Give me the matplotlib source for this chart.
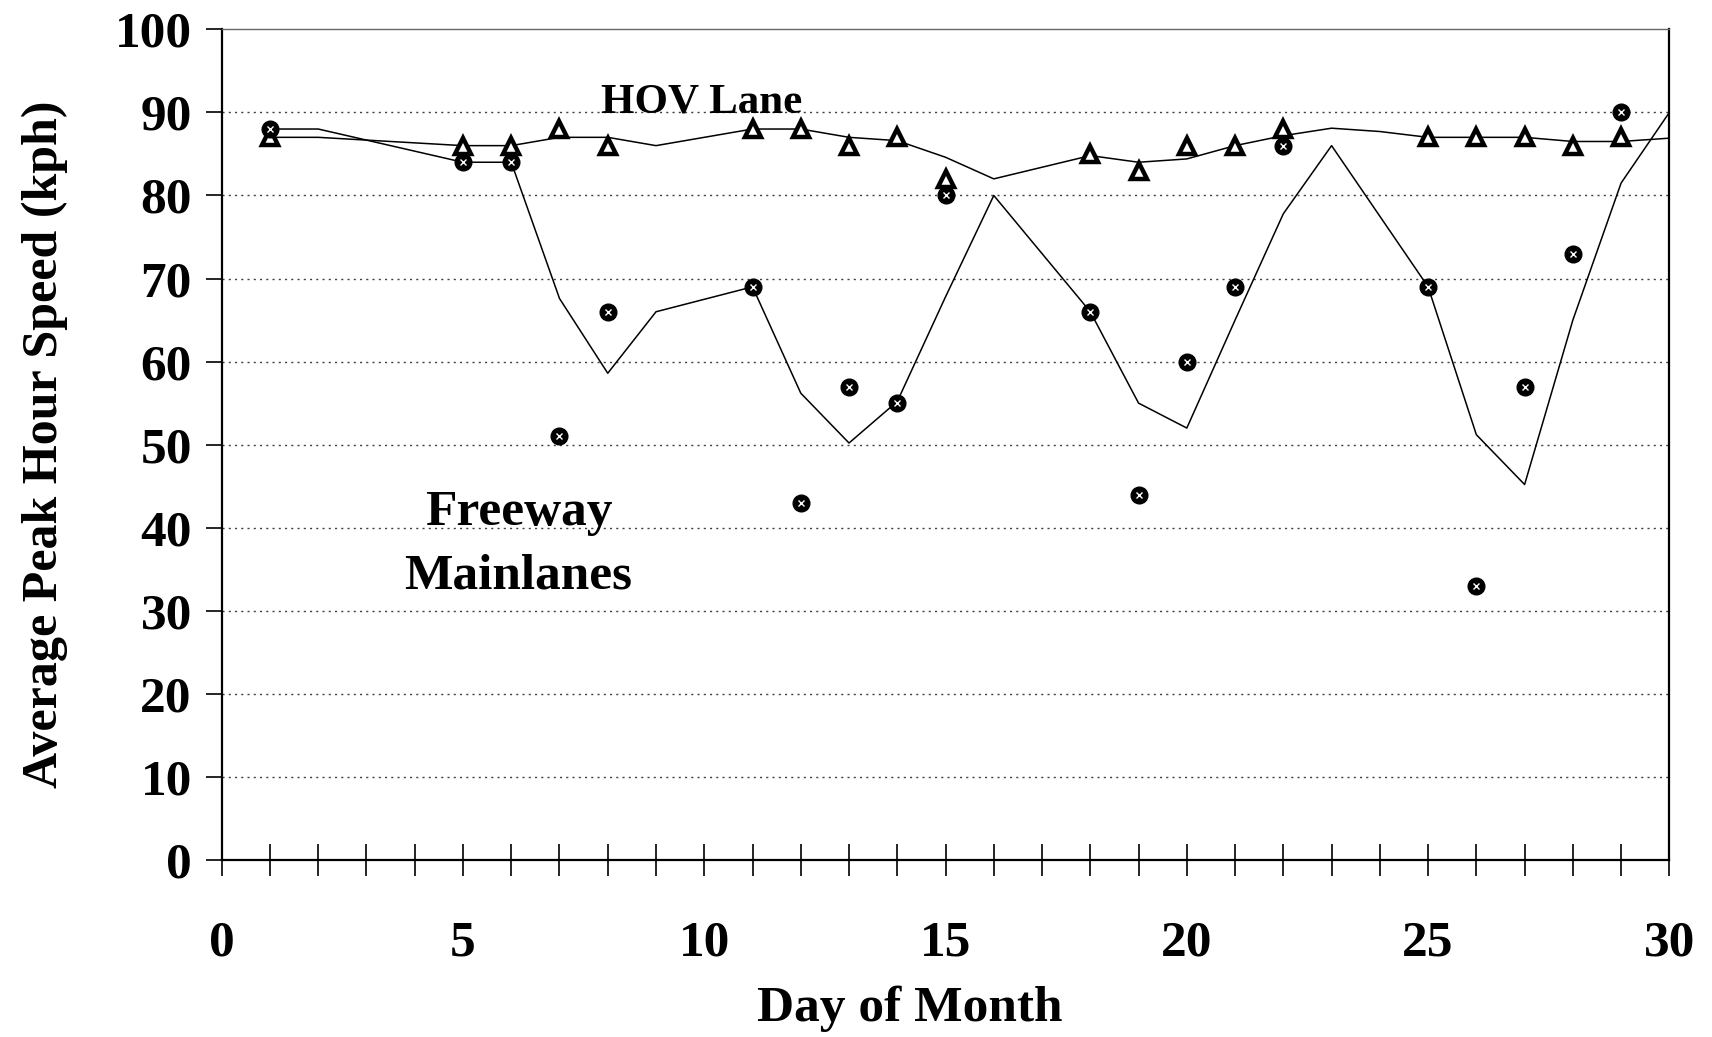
import matplotlib
matplotlib.use('Agg')
import matplotlib.pyplot as plt
from matplotlib.ticker import MultipleLocator

plt.rcParams['font.family'] = ['Liberation Serif', 'DejaVu Serif']
plt.rcParams['font.weight'] = 'bold'

# Observed points
obs_days = [1, 5, 6, 7, 8, 11, 12, 13, 14, 15, 18, 19, 20, 21, 22, 25, 26, 27, 28, 29]
freeway_pts = [88, 84, 84, 51, 66, 69, 43, 57, 55, 80, 66, 44, 60, 69, 86, 69, 33, 57, 73, 90]
hov_pts = [87, 86, 86, 88, 86, 88, 88, 86, 87, 82, 85, 83, 86, 86, 88, 87, 87, 87, 86, 87]

# Fitted lines (vertices)
fw_line_days = [1, 2, 5, 6, 7, 8, 9, 11, 12, 13, 14, 15, 16, 18, 19, 20, 21, 22, 23, 25, 26, 27, 28, 29, 30]
fw_line = [88, 88, 84, 84, 67.6, 58.6, 66, 69, 56.2, 50.2, 55.2, 67.8, 80, 66, 55, 52, 65, 77.8, 86,
           69, 51.2, 45.2, 65, 81.5, 90]
hov_line_days = [1, 2, 5, 6, 7, 8, 9, 11, 12, 13, 14, 15, 16, 18, 19, 20, 21, 22, 23, 24, 25, 26, 27,
                 28, 29, 30]
hov_line = [87, 87, 86, 86, 87, 87, 86, 88, 88, 87, 86.6, 84.6, 82, 84.8, 84, 84.4, 86, 87.2, 88.1,
            87.7, 87, 87, 87, 86.5, 86.5, 86.9]

fig = plt.figure(figsize=(17.12, 10.37), dpi=100)
ax = fig.add_axes([0.1295, 0.1707, 0.8456, 0.801])

# gridlines
for v in range(10, 100, 10):
    ax.axhline(v, color='0.25', lw=1.0, ls=(0, (1.5, 3)), zorder=1)

ax.plot(hov_line_days, hov_line, color='black', lw=1.1, zorder=2)
ax.plot(fw_line_days, fw_line, color='black', lw=1.1, zorder=2)

ax.plot(obs_days, hov_pts, ls='none', marker='^', ms=12, mfc='white', mec='black', mew=3.2, zorder=3)
ax.plot(obs_days, freeway_pts, ls='none', marker='o', ms=12, mfc='black', mec='black', zorder=3)
ax.plot(obs_days, freeway_pts, ls='none', marker='x', ms=4.5, mec='white', mew=1.0, zorder=4)

ax.set_xlim(0, 30)
ax.set_ylim(0, 100)
ax.xaxis.set_major_locator(MultipleLocator(5))
ax.xaxis.set_minor_locator(MultipleLocator(1))
ax.yaxis.set_major_locator(MultipleLocator(10))

ax.tick_params(axis='x', which='both', direction='inout', length=23, width=1.2, pad=32, labelsize=37)
ax.tick_params(axis='y', direction='out', length=11.5, width=1.2, pad=10, labelsize=37)

for side in ['left', 'bottom', 'right']:
    ax.spines[side].set_linewidth(1.6)
ax.spines['top'].set_linewidth(1.0)
ax.spines['top'].set_color('0.4')

ax.set_xlabel('Day of Month', fontsize=37, fontweight='bold')
ax.xaxis.set_label_coords(0.4755, -0.151)
ax.set_ylabel('Average Peak Hour Speed (kph)', fontsize=36, fontweight='bold')
ax.yaxis.set_label_coords(-0.106, 0.5)

ax.text(9.95, 90.0, 'HOV Lane', fontsize=31, fontweight='bold', ha='center', va='baseline')
ax.text(6.15, 40.3, 'Freeway', fontsize=37, fontweight='bold', ha='center', va='baseline')
ax.text(6.15, 32.7, 'Mainlanes', fontsize=37, fontweight='bold', ha='center', va='baseline')

fig.savefig('out.png', dpi=100)
